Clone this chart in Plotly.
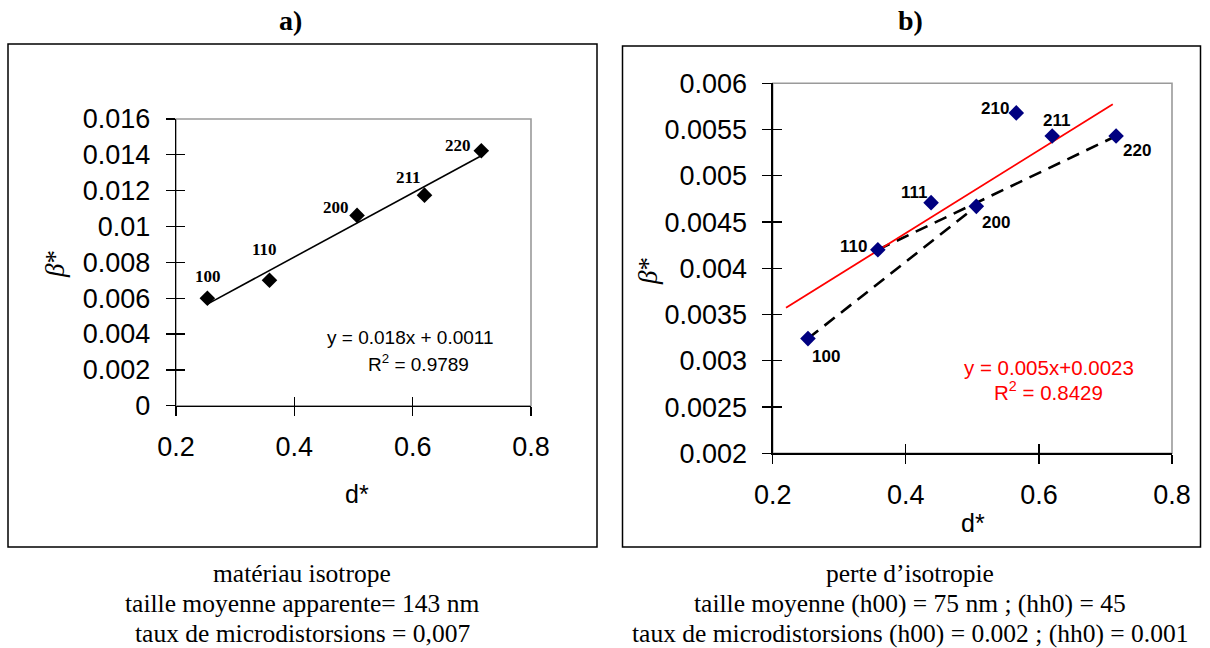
import numpy as np
import plotly.graph_objects as go

# ---------------- data ----------------
# panel a : isotropic material
a_labels = ["100", "110", "200", "211", "220"]
a_d = [0.253, 0.358, 0.506, 0.620, 0.716]
a_beta = [0.0060, 0.0070, 0.01062, 0.01175, 0.01423]

# panel b : loss of isotropy
b_labels = ["100", "110", "111", "200", "210", "211", "220"]
b_d = [0.253, 0.358, 0.438, 0.506, 0.566, 0.620, 0.716]
b_beta = [0.00324, 0.00420, 0.00471, 0.00467, 0.00568, 0.00543, 0.00543]

# dashed family lines (h00) and (hh0)
b_h00_d = [0.253, 0.506]
b_h00_beta = [0.00324, 0.00467]
b_hh0_d = [0.358, 0.716]
b_hh0_beta = [0.00420, 0.00543]

# red trend line as drawn in panel b
b_fit_d = [0.220, 0.711]
b_fit_beta = [0.003574, 0.005773]

# tick labels
x_tickvals = [0.2, 0.4, 0.6, 0.8]
x_ticktext = ["0.2", "0.4", "0.6", "0.8"]
a_ytickvals = [0, 0.002, 0.004, 0.006, 0.008, 0.010, 0.012, 0.014, 0.016]
a_yticktext = ["0", "0.002", "0.004", "0.006", "0.008", "0.01", "0.012", "0.014", "0.016"]
b_ytickvals = [0.002, 0.0025, 0.003, 0.0035, 0.004, 0.0045, 0.005, 0.0055, 0.006]
b_yticktext = ["0.002", "0.0025", "0.003", "0.0035", "0.004", "0.0045", "0.005", "0.0055", "0.006"]

a_eq = "y = 0.018x + 0.0011"
a_r2 = "R<sup>2</sup> = 0.9789"
b_eq = "y = 0.005x+0.0023"
b_r2 = "R<sup>2</sup> = 0.8429"

caption_a = ["matériau isotrope",
             "taille moyenne apparente= 143 nm",
             "taux de microdistorsions = 0,007"]
caption_b = ["perte d\u2019isotropie",
             "taille moyenne (h00) = 75 nm ; (hh0) = 45",
             "taux de microdistorsions (h00) = 0.002 ; (hh0) = 0.001"]

# ---------------- layout helpers ----------------
W, H = 1210, 648
SANS = "Liberation Sans, Arial, sans-serif"
SERIF = "Liberation Serif, Times New Roman, serif"


def px(x):
    return x / W


def py(y):
    return 1 - y / H


fig = go.Figure()

# linear fit for panel a (computed from data)
slope, inter = np.polyfit(a_d, a_beta, 1)
fit_x = np.array([min(a_d), max(a_d)])
fig.add_trace(go.Scatter(x=fit_x, y=slope * fit_x + inter, mode="lines",
                         line=dict(color="black", width=1.6),
                         xaxis="x", yaxis="y", showlegend=False, hoverinfo="skip"))
fig.add_trace(go.Scatter(x=a_d, y=a_beta, mode="markers",
                         marker=dict(symbol="diamond", size=12, color="black"),
                         xaxis="x", yaxis="y", showlegend=False))

# panel b
fig.add_trace(go.Scatter(x=b_h00_d, y=b_h00_beta, mode="lines",
                         line=dict(color="black", width=2.6, dash="13px,8px"),
                         xaxis="x2", yaxis="y2", showlegend=False, hoverinfo="skip"))
fig.add_trace(go.Scatter(x=b_hh0_d, y=b_hh0_beta, mode="lines",
                         line=dict(color="black", width=2.6, dash="13px,8px"),
                         xaxis="x2", yaxis="y2", showlegend=False, hoverinfo="skip"))
fig.add_trace(go.Scatter(x=b_fit_d, y=b_fit_beta, mode="lines",
                         line=dict(color="#ff0000", width=1.8),
                         xaxis="x2", yaxis="y2", showlegend=False, hoverinfo="skip"))
fig.add_trace(go.Scatter(x=b_d, y=b_beta, mode="markers",
                         marker=dict(symbol="diamond", size=12, color="#000080"),
                         xaxis="x2", yaxis="y2", showlegend=False))

# invisible traces to materialise the inside-tick overlay axes
fig.add_trace(go.Scatter(x=[None], y=[None], xaxis="x3", yaxis="y3", showlegend=False))
fig.add_trace(go.Scatter(x=[None], y=[None], xaxis="x4", yaxis="y4", showlegend=False))

a_xdom = [px(176), px(531)]
a_ydom = [py(405.7), py(119)]
b_xdom = [px(772.7), px(1172)]
b_ydom = [py(453.3), py(83.3)]

tickfont = dict(family=SANS, size=27, color="black")

base_x = dict(range=[0.2, 0.8], tickvals=x_tickvals, ticktext=x_ticktext,
              ticks="outside", ticklen=9, tickwidth=1.3, tickcolor="black",
              showline=True, linecolor="black", linewidth=1.3,
              showgrid=False, zeroline=False, tickfont=tickfont,
              ticklabelstandoff=8, fixedrange=True, automargin=False)
base_y = dict(ticks="outside", ticklen=9, tickwidth=1.3, tickcolor="black",
              showline=True, linecolor="black", linewidth=1.3,
              showgrid=False, zeroline=False, tickfont=tickfont,
              ticklabelstandoff=10, fixedrange=True, automargin=False)

inner = dict(ticks="inside", ticklen=9, tickwidth=1.3, tickcolor="black",
             showline=False, showgrid=False, zeroline=False,
             showticklabels=False, fixedrange=True, automargin=False)

fig.update_layout(
    template="none",
    width=W, height=H, autosize=False,
    margin=dict(l=0, r=0, t=0, b=0, pad=0, autoexpand=False),
    paper_bgcolor="white", plot_bgcolor="white",
    showlegend=False,
    xaxis=dict(domain=a_xdom, anchor="y", **base_x),
    yaxis=dict(domain=a_ydom, anchor="x", range=[0, 0.016],
               tickvals=a_ytickvals, ticktext=a_yticktext, **base_y),
    xaxis2=dict(domain=b_xdom, anchor="y2", **base_x),
    yaxis2=dict(domain=b_ydom, anchor="x2", range=[0.002, 0.006],
                tickvals=b_ytickvals, ticktext=b_yticktext, **base_y),
    xaxis3=dict(domain=a_xdom, anchor="y3", overlaying="x", range=[0.2, 0.8],
                tickvals=x_tickvals, **inner),
    yaxis3=dict(domain=a_ydom, anchor="x3", overlaying="y", range=[0, 0.016],
                tickvals=a_ytickvals, **inner),
    xaxis4=dict(domain=b_xdom, anchor="y4", overlaying="x2", range=[0.2, 0.8],
                tickvals=x_tickvals, **inner),
    yaxis4=dict(domain=b_ydom, anchor="x4", overlaying="y2", range=[0.002, 0.006],
                tickvals=b_ytickvals, **inner),
)

shapes = []
# grey frame of plot areas (top/right visible)
for xr, yr in (("x", "y"), ("x2", "y2")):
    shapes.append(dict(type="rect", xref=xr + " domain", yref=yr + " domain",
                       x0=0, x1=1, y0=0, y1=1, layer="below",
                       line=dict(color="#9a9a9a", width=1.6)))
# outer panel boxes
shapes.append(dict(type="rect", xref="paper", yref="paper",
                   x0=px(8), x1=px(597), y0=py(547), y1=py(44),
                   line=dict(color="black", width=1.5)))
shapes.append(dict(type="rect", xref="paper", yref="paper",
                   x0=px(622.5), x1=px(1200.5), y0=py(547), y1=py(46),
                   line=dict(color="black", width=1.5)))
fig.update_layout(shapes=shapes)

ann = []


def add_text(text, x, y, font, xref="paper", yref="paper", **kw):
    ann.append(dict(text=text, x=x, y=y, xref=xref, yref=yref, showarrow=False,
                    xanchor="center", yanchor="middle", font=font, **kw))


# titles
add_text("<b>a)</b>", px(290), py(20), dict(family=SERIF, size=28, color="black"))
add_text("<b>b)</b>", px(910), py(20), dict(family=SERIF, size=28, color="black"))

# axis titles
for (tx, ty) in ((357, 494), (973, 523)):
    add_text("d*", px(tx), py(ty), dict(family=SANS, size=25, color="black"))
for (tx, ty) in ((55, 264), (648, 271)):
    add_text("<i>\u03b2</i>*", px(tx), py(ty), dict(family=SERIF, size=27, color="black"),
             textangle=-90)

# point labels panel a (bold serif)
a_off = {"100": (1, 22), "110": (-5, 31), "200": (-21, 8), "211": (-16, 18), "220": (-23, 5)}
for lab, xv, yv in zip(a_labels, a_d, a_beta):
    dx, dy = a_off[lab]
    add_text("<b>%s</b>" % lab, xv, yv, dict(family=SERIF, size=17, color="black"),
             xref="x", yref="y", xshift=dx, yshift=dy)

# point labels panel b (bold sans)
b_off = {"100": (18, -18), "110": (-24, 3), "111": (-17, 10), "200": (20, -16),
         "210": (-21, 4), "211": (4, 16), "220": (21, -14)}
for lab, xv, yv in zip(b_labels, b_d, b_beta):
    dx, dy = b_off[lab]
    add_text("<b>%s</b>" % lab, xv, yv, dict(family=SANS, size=17, color="black"),
             xref="x2", yref="y2", xshift=dx, yshift=dy)

# equations
add_text(a_eq, px(410), py(337), dict(family=SANS, size=19, color="black"))
add_text(a_r2, px(418), py(363), dict(family=SANS, size=19, color="black"))
add_text(b_eq, px(1049), py(367), dict(family=SANS, size=20.5, color="#ff0000"))
add_text(b_r2, px(1048), py(391), dict(family=SANS, size=20.5, color="#ff0000"))

# captions
for i, line in enumerate(caption_a):
    add_text(line, px(302), py(573 + 30 * i), dict(family=SERIF, size=25.5, color="black"))
for i, line in enumerate(caption_b):
    add_text(line, px(910), py(573 + 30 * i), dict(family=SERIF, size=25.5, color="black"))

fig.update_layout(annotations=ann)

fig.write_html("out.html",
               config={"displayModeBar": False, "staticPlot": True},
               post_script="document.body.style.margin='0';"
                           "document.body.style.overflow='hidden';")
